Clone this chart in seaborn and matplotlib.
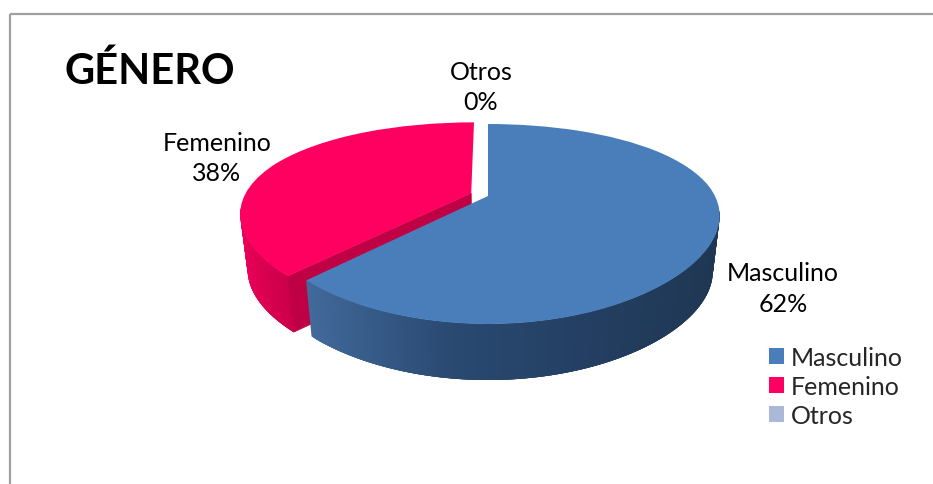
import numpy as np
import matplotlib
matplotlib.use("Agg")
import matplotlib.pyplot as plt
import seaborn as sns
from matplotlib.collections import PolyCollection
from matplotlib.colors import LinearSegmentedColormap
from matplotlib.patches import Patch, Polygon, Rectangle
from matplotlib.transforms import Transform

categories = ["Masculino", "Femenino", "Otros"]
shares = [62, 38, 0]
explode = [0, 0.08, 0]
title = "GÉNERO"

sns.set_theme(style="white")
plt.rcParams["font.family"] = ["Lato", "DejaVu Sans"]
palette = sns.color_palette(["#4A7EBB", "#FF0061", "#AAB9D8"])

W, H = 933, 485


class PieProjection(Transform):
    """Tilted-disc perspective: unit pie coordinates to canvas pixels."""
    input_dims = 2
    output_dims = 2
    is_separable = False
    has_inverse = False

    def __init__(self, drop=0.0):
        super().__init__()
        self.drop = drop

    def transform_non_affine(self, xy):
        xy = np.asarray(xy, dtype=float)
        shrink = 1 - 0.03 * self.drop
        px = 488 + 227 * shrink * xy[:, 0] / (1 + 0.20 * xy[:, 1])
        py = 197 - 92.16 * xy[:, 1] / (1 + 0.28 * xy[:, 1]) + 56 * self.drop
        return np.column_stack([px, py])


fig = plt.figure(figsize=(W / 100, H / 100), dpi=100)
ax = fig.add_axes([0, 0, 1, 1])
wedges, _ = ax.pie(shares, explode=explode, colors=palette, startangle=90,
                   counterclock=False, radius=1)
ax.set_aspect("auto")
ax.set_xlim(0, W)
ax.set_ylim(H, 0)
ax.axis("off")

top = PieProjection(0.0)
bottom = PieProjection(1.0)

rim_maps = [
    LinearSegmentedColormap.from_list("rim_blue", ["#41699A", "#2A4A72", "#243F63", "#1F3752"]),
    LinearSegmentedColormap.from_list("rim_red", ["#EC0058", "#D8004F", "#CC004A"]),
]


def draw_rim(wedge, cmap, zorder):
    cx, cy = wedge.center
    th = np.radians(np.linspace(wedge.theta1, wedge.theta2, 360))
    # Only the part of the rim facing the viewer is ever seen.
    th = th[np.sin(th) < -0.15]
    ring = np.column_stack([cx + np.cos(th), cy + np.sin(th)])
    upper, lower = top.transform_non_affine(ring), bottom.transform_non_affine(ring)
    # Each strip overlaps the next few so no seams show through the shading.
    n = len(th)
    quads = []
    for i in range(n - 1):
        j = min(i + 4, n - 1)
        quads.append(np.vstack([upper[i:j + 1], lower[i:j + 1][::-1]]))
    xs = upper[:-1, 0]
    tone = (xs - xs.min()) / max(np.ptp(xs), 1)
    ax.add_collection(PolyCollection(quads, facecolors=cmap(tone), edgecolors="none",
                                     linewidths=0, zorder=zorder))


def draw_cut_face(wedge, color, zorder):
    # Radial side of the slice, running from its apex out to the clockwise-first edge.
    cx, cy = wedge.center
    th = np.radians(wedge.theta2)
    edge = np.array([[cx, cy], [cx + np.cos(th), cy + np.sin(th)]])
    upper, lower = top.transform_non_affine(edge), bottom.transform_non_affine(edge)
    ax.add_patch(Polygon([upper[0], upper[1], lower[1], lower[0]], closed=True,
                         facecolor=color, edgecolor=color, linewidth=0.5, zorder=zorder))


# Femenino sits behind, so its sides and lid go down first.
draw_rim(wedges[1], rim_maps[1], 1)
draw_cut_face(wedges[1], "#BF0045", 1.5)
wedges[1].set_transform(top + ax.transData)
wedges[1].set_zorder(2)

draw_rim(wedges[0], rim_maps[0], 3)
wedges[0].set_transform(top + ax.transData)
wedges[0].set_zorder(4)
wedges[2].set_visible(False)

for wedge in wedges:
    wedge.set_clip_on(False)
    wedge.set_linewidth(0)

# Slice captions.
label_anchor = {"Masculino": (783, 289), "Femenino": (217, 158.5), "Otros": (481, 87.5)}
for name, share in zip(categories, shares):
    x, y = label_anchor[name]
    ax.text(x, y, f"{name}\n{share}%", ha="center", va="center", fontsize=18,
            linespacing=1.4, color="#000000", zorder=6)

ax.text(64, 71, title, ha="left", va="center", fontsize=30, fontweight="bold",
        color="#000000", zorder=6)

handles = [Patch(facecolor=c, edgecolor="none", label=n) for n, c in zip(categories, palette)]
ax.legend(handles=handles, loc="upper left", bbox_to_anchor=(769 / W, 1 - 347 / H),
          frameon=False, fontsize=18, handlelength=0.6, handleheight=0.6,
          handletextpad=0.28, labelspacing=0.24, borderpad=0, borderaxespad=0)

# Chart-area outline.
ax.add_patch(Rectangle((9.5, 14.5), 940, 500, fill=False, edgecolor="#A0A0A0",
                       linewidth=1.6, clip_on=True, zorder=0))

fig.savefig("out.png", dpi=100, facecolor="white")
